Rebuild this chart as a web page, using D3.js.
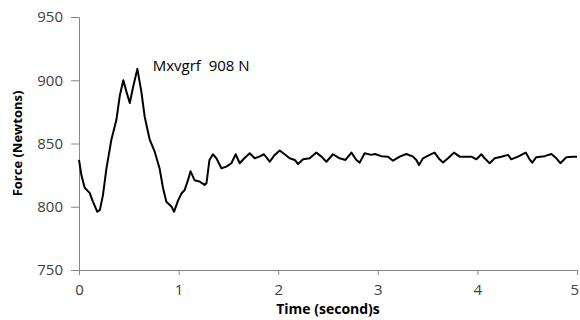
<!DOCTYPE html>
<html>
<head>
<meta charset="utf-8">
<script src="https://cdn.jsdelivr.net/npm/d3@7"></script>
<style>
  body { margin: 0; background: #fff; }
  text { font-family: "Open Sans", "Liberation Sans", sans-serif; }
</style>
</head>
<body>
<svg id="chart" width="580" height="320"></svg>
<script>
// time in seconds
const times = [
    0.00, 0.024, 0.057, 0.107, 0.14, 0.184, 0.21, 0.24, 0.275, 0.325,
    0.375, 0.41, 0.445, 0.476, 0.51, 0.54, 0.586, 0.626, 0.66, 0.71,
    0.76, 0.81, 0.843, 0.877, 0.93, 0.954, 0.995, 1.03, 1.06, 1.094,
    1.12, 1.16, 1.21, 1.26, 1.28, 1.31, 1.345, 1.38, 1.43, 1.48,
    1.53, 1.573, 1.613, 1.66, 1.714, 1.764, 1.81, 1.857, 1.915, 1.965,
    2.015, 2.065, 2.115, 2.166, 2.2, 2.25, 2.316, 2.383, 2.434, 2.484,
    2.55, 2.617, 2.675, 2.735, 2.785, 2.818, 2.868, 2.935, 2.97, 3.036,
    3.1, 3.153, 3.22, 3.287, 3.353, 3.387, 3.414, 3.454, 3.52, 3.57,
    3.62, 3.655, 3.705, 3.765, 3.822, 3.872, 3.94, 3.99, 4.04, 4.073,
    4.123, 4.174, 4.24, 4.307, 4.34, 4.407, 4.485, 4.524, 4.55, 4.59,
    4.675, 4.743, 4.793, 4.833, 4.893, 4.96, 5.0
];

// force in newtons
const forces = [
    837, 825, 815, 811, 804, 796, 797.5, 809, 830, 853,
    868.5, 888, 900, 891, 882, 893.5, 909, 891, 871, 853,
    843.5, 830, 815, 804, 800, 796, 805, 810.7, 813, 821,
    828, 821, 820, 817.3, 818.6, 837, 841.5, 838.3, 830.4, 831.7,
    834.4, 841.5, 834.4, 838.3, 842.3, 838.3, 839.6, 841.5, 835.6, 841,
    844.5, 841.5, 838.3, 837, 833.8, 837.5, 838.3, 842.8, 839.6, 835.6,
    841.5, 838.3, 837, 842.8, 837, 834.9, 842.3, 841, 841.7, 840,
    839.6, 836.4, 839.6, 841.7, 839.6, 837, 833, 838.3, 841, 842.8,
    837.5, 834.9, 838.3, 842.8, 839.6, 839.6, 839.6, 837.5, 841.5, 838.3,
    834.4, 838.3, 839.6, 841, 837.5, 839.6, 842.8, 837.5, 834.9, 839.1,
    840, 841.7, 838.3, 834.4, 839.1, 839.6, 839.6
];

const xTicks = [0, 1, 2, 3, 4, 5];
const yTicks = [750, 800, 850, 900, 950];
const annotation = { text: "Mxvgrf  908 N", t: 0.74, f: 907.4 };

const width = 580, height = 320;
const margin = { top: 17, right: 3, bottom: 50, left: 79 };

const svg = d3.select("#chart");

const x = d3.scaleLinear()
            .domain([0, 5])
            .range([margin.left, width - margin.right]);

const y = d3.scaleLinear()
            .domain([750, 950])
            .range([height - margin.bottom, margin.top]);

const axisGrey = "#868686",
      labelGrey = "#404040";

// y axis
const yAxis = svg.append("g")
                 .attr("transform", "translate(" + margin.left + ",0)")
                 .call(d3.axisLeft(y).tickValues(yTicks).tickFormat(d3.format("d"))
                         .tickSize(8).tickPadding(8));

// x axis
const xAxis = svg.append("g")
                 .attr("transform", "translate(0," + (height - margin.bottom) + ")")
                 .call(d3.axisBottom(x).tickValues(xTicks).tickFormat(d3.format("d"))
                         .tickSize(5).tickPadding(9));

[xAxis, yAxis].forEach(a => {
    a.select(".domain").attr("stroke", axisGrey);
    a.selectAll(".tick line").attr("stroke", axisGrey);
    a.selectAll(".tick text")
     .attr("fill", labelGrey)
     .style("font-size", "15px");
});

// last x label sits against the right edge
xAxis.selectAll(".tick text")
     .filter(d => d === 5)
     .attr("text-anchor", "end")
     .attr("dx", 1.5);

// the trace
const points = times.map((t, i) => [t, forces[i]]);

const line = d3.line()
               .x(d => x(d[0]))
               .y(d => y(d[1]));

svg.append("path")
   .datum(points)
   .attr("fill", "none")
   .attr("stroke", "#000")
   .attr("stroke-width", 2)
   .attr("stroke-linejoin", "round")
   .attr("d", line);

// annotation
svg.append("text")
   .attr("x", x(annotation.t))
   .attr("y", y(annotation.f))
   .attr("fill", "#000")
   .style("font-size", "15px")
   .style("white-space", "pre")
   .text(annotation.text);

// axis titles
svg.append("text")
   .attr("x", (margin.left + width - margin.right) / 2)
   .attr("y", 314)
   .attr("text-anchor", "middle")
   .attr("fill", "#000")
   .style("font-size", "14px")
   .style("font-weight", "bold")
   .text("Time (second)s");

svg.append("text")
   .attr("transform", "translate(22," + y(850) + ") rotate(-90)")
   .attr("text-anchor", "middle")
   .attr("fill", "#000")
   .style("font-size", "13px")
   .style("font-weight", "bold")
   .text("Force (Newtons)");
</script>
</body>
</html>
